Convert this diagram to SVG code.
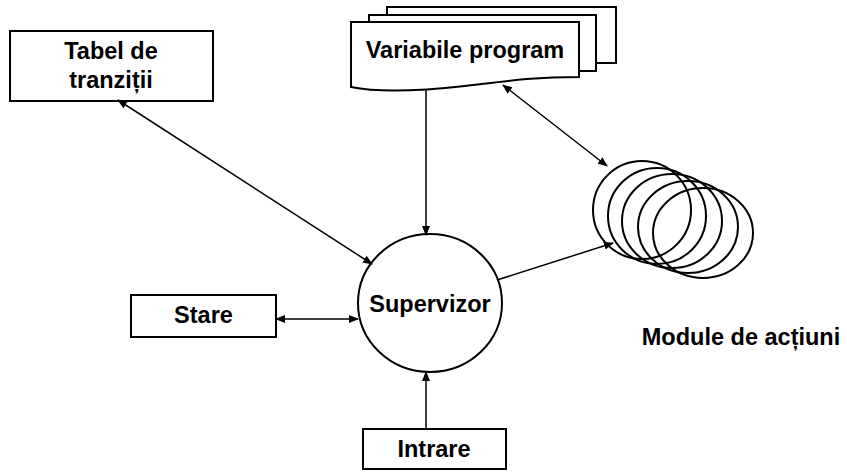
<svg xmlns="http://www.w3.org/2000/svg" width="847" height="473" viewBox="0 0 847 473">
<style>
.shape{fill:#fff;stroke:#000;stroke-width:2}
.ring{fill:none;stroke:#000;stroke-width:2}
.lbl{font-family:"Liberation Sans",Arial,sans-serif;font-weight:bold;font-size:23.5px;fill:#000;text-anchor:middle}
.conn{stroke:#000;stroke-width:1.5;fill:none}
</style>
<defs>
<marker id="ah" markerUnits="userSpaceOnUse" markerWidth="10" markerHeight="8" refX="9" refY="4" orient="auto-start-reverse">
<path d="M0,0 L10,4 L0,8 Z" fill="#000"/>
</marker>
</defs>
<rect width="847" height="473" fill="#fff"/>
<g id="tabel">
<rect class="shape" x="10" y="31" width="203" height="70"/>
<text class="lbl" x="111" y="59">Tabel de</text>
<text class="lbl" x="111" y="88">tranziții</text>
</g>
<g id="variabile">
<rect class="shape" x="387" y="7" width="229" height="56"/>
<rect class="shape" x="369" y="15" width="227" height="56"/>
<path class="shape" d="M351,22 H579 V77 C530,77 500,82 465,86 C420,91 380,93 351,87 Z"/>
<text class="lbl" x="465" y="58">Variabile program</text>
</g>
<g id="supervizor">
<ellipse class="shape" cx="430" cy="303" rx="72" ry="69"/>
<text class="lbl" x="430" y="312">Supervizor</text>
</g>
<g id="stare">
<rect class="shape" x="131" y="295" width="145" height="42"/>
<text class="lbl" x="203.5" y="323">Stare</text>
</g>
<g id="intrare">
<rect class="shape" x="363" y="429" width="143" height="40"/>
<text class="lbl" x="434" y="457">Intrare</text>
</g>
<g id="module">
<ellipse class="ring" cx="642" cy="210" rx="49" ry="49"/>
<ellipse class="ring" cx="657" cy="216" rx="49" ry="48"/>
<ellipse class="ring" cx="672" cy="221" rx="50" ry="47"/>
<ellipse class="ring" cx="688" cy="227" rx="50" ry="46"/>
<ellipse class="ring" cx="703" cy="233" rx="50" ry="45"/>
<text class="lbl" x="741" y="345">Module de acțiuni</text>
</g>
<g id="connectors">
<line class="conn" x1="118" y1="100" x2="372" y2="264" marker-start="url(#ah)" marker-end="url(#ah)"/>
<line class="conn" x1="426" y1="90" x2="426" y2="235" marker-end="url(#ah)"/>
<line class="conn" x1="503" y1="85" x2="607" y2="166" marker-start="url(#ah)" marker-end="url(#ah)"/>
<line class="conn" x1="497" y1="280" x2="613" y2="243" marker-end="url(#ah)"/>
<line class="conn" x1="276" y1="319" x2="358" y2="319" marker-start="url(#ah)" marker-end="url(#ah)"/>
<line class="conn" x1="426" y1="429" x2="426" y2="372" marker-end="url(#ah)"/>
</g>
</svg>
